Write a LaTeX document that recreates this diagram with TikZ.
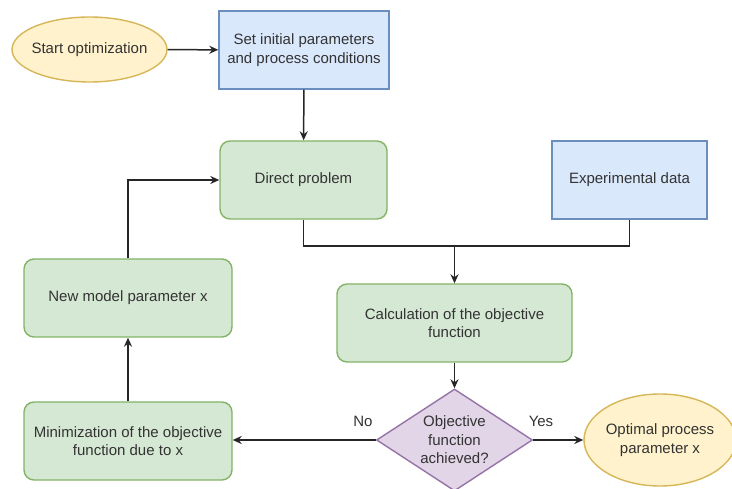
\documentclass[tikz,border=0pt]{standalone}
\usepackage{fontspec}
\setmainfont{Liberation Sans}
\usetikzlibrary{shapes.geometric,arrows.meta}
\definecolor{yfill}{HTML}{FFF2CC}\definecolor{ydraw}{HTML}{D6B656}
\definecolor{bfill}{HTML}{DAE8FC}\definecolor{bdraw}{HTML}{6C8EBF}
\definecolor{gfill}{HTML}{D5E8D4}\definecolor{gdraw}{HTML}{82B366}
\definecolor{pfill}{HTML}{E1D5E7}\definecolor{pdraw}{HTML}{9673A6}
\definecolor{txt}{HTML}{333333}
\begin{document}
\begin{tikzpicture}[x=1pt,y=-1pt,
  every node/.style={font=\fontsize{15}{18.5}\selectfont, text=txt, align=center, line width=1.4pt},
  term/.style={ellipse, draw=ydraw, fill=yfill, inner sep=0pt},
  datbox/.style={rectangle, draw=bdraw, fill=bfill, inner sep=0pt},
  procbox/.style={rectangle, rounded corners=10pt, draw=gdraw, fill=gfill, inner sep=0pt},
  decision/.style={diamond, draw=pdraw, fill=pfill, inner sep=0pt},
  conn/.style={draw=black!85, line width=1.5pt, -{Stealth[length=9pt,width=8pt]}},
  plain/.style={draw=black!85, line width=1.5pt}]
\useasboundingbox (0,0) rectangle (732,489);
\clip (0,0) rectangle (732,489);
\node[term, minimum width=155, minimum height=65] (start) at (89.5,49.5) {};
\node (starttxt) at (start.center) {Start optimization};
\node[datbox, minimum width=170, minimum height=78] (init) at (304,50) {Set initial parameters\\and process conditions};
\node[procbox, minimum width=167, minimum height=78] (direct) at (303.5,180) {Direct problem};
\node[datbox, minimum width=155, minimum height=78] (exp) at (629.5,180) {Experimental data};
\node[procbox, minimum width=235, minimum height=78] (calc) at (454.5,323) {Calculation of the objective\\function};
\node[decision, minimum width=156, minimum height=102] (dec) at (454.5,440) {};
\node (dectxt) at (dec.center) {Objective\\function\\achieved?};
\node[term, minimum width=152, minimum height=92] (opt) at (660,440) {};
\node (opttxt) at (opt.center) {Optimal process\\parameter x};
\node[procbox, minimum width=208, minimum height=78] (newp) at (128,298) {New model parameter x};
\node[procbox, minimum width=208, minimum height=78] (mini) at (128,441) {Minimization of the objective\\function due to x};
\coordinate (j) at (454.5,246);
\draw[conn] (start) -- (init);
\draw[conn] (init) -- (direct);
\draw[plain] (direct.south) |- (j);
\draw[plain] (exp.south) |- (j);
\draw[conn] (j) -- (calc.north);
\draw[conn] (calc) -- (dec);
\draw[conn] (dec.west) -- (mini.east |- dec.west);
\draw[conn] (dec.east) -- (opt.west);
\draw[conn] (mini) -- (newp);
\draw[conn] (newp.north) |- (direct.west);
\node (no) at (363,421) {No};
\node (yes) at (541,421) {Yes};
\end{tikzpicture}
\end{document}
